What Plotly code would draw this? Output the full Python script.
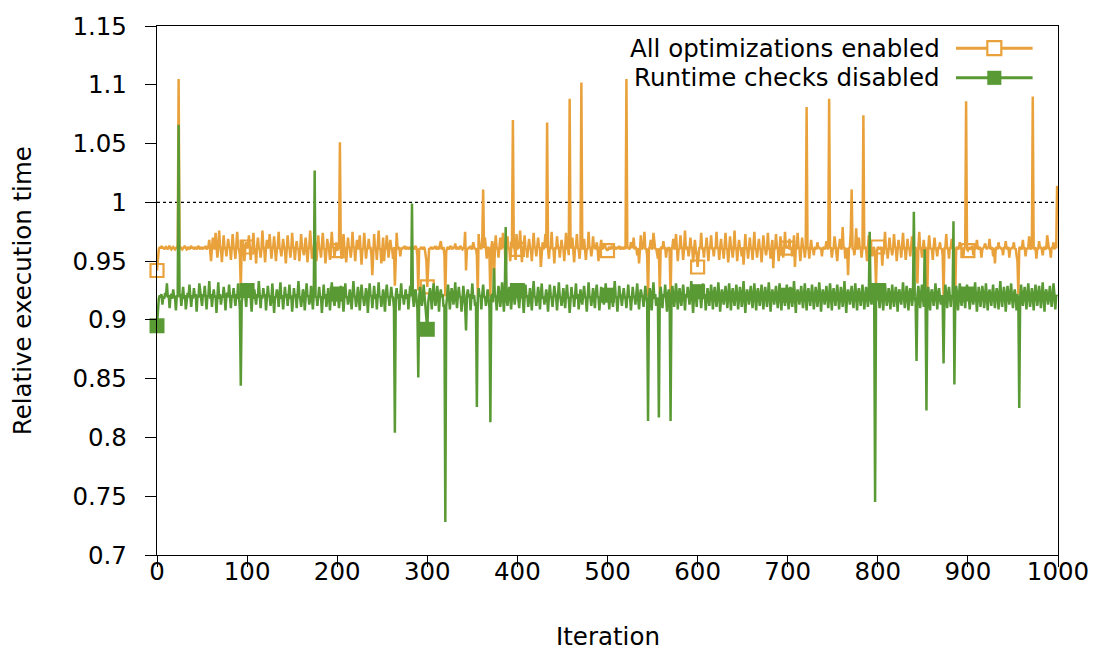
import plotly.graph_objects as go

# Per-iteration relative execution time (1000 iterations)
iterations = list(range(1000))

all_opt = [
    0.942, 0.955, 0.960, 0.962, 0.961, 0.963, 0.961, 0.962, 0.960, 0.961, 0.962, 0.961, 0.960, 0.962, 0.963, 0.961, 0.960, 0.961, 0.962, 0.961,
    0.960, 0.961, 0.962, 0.961, 1.105, 0.960, 0.962, 0.961, 0.960, 0.961, 0.962, 0.963, 0.961, 0.960, 0.961, 0.962, 0.960, 0.961, 0.963, 0.961,
    0.962, 0.960, 0.961, 0.962, 0.960, 0.961, 0.963, 0.961, 0.960, 0.962, 0.961, 0.960, 0.962, 0.961, 0.963, 0.960, 0.961, 0.962, 0.968, 0.961,
    0.950, 0.961, 0.970, 0.962, 0.960, 0.974, 0.961, 0.953, 0.960, 0.976, 0.962, 0.961, 0.949, 0.961, 0.972, 0.960, 0.962, 0.954, 0.961, 0.969,
    0.961, 0.962, 0.951, 0.960, 0.973, 0.961, 0.960, 0.952, 0.962, 0.975, 0.961, 0.960, 0.955, 0.926, 0.961, 0.968, 0.962, 0.950, 0.961, 0.966,
    0.962, 0.961, 0.972, 0.960, 0.951, 0.961, 0.962, 0.974, 0.960, 0.961, 0.948, 0.962, 0.970, 0.961, 0.960, 0.953, 0.961, 0.976, 0.962, 0.960,
    0.949, 0.961, 0.968, 0.962, 0.961, 0.973, 0.960, 0.952, 0.961, 0.962, 0.971, 0.961, 0.950, 0.960, 0.962, 0.975, 0.961, 0.960, 0.954, 0.961,
    0.969, 0.962, 0.960, 0.948, 0.961, 0.972, 0.961, 0.962, 0.953, 0.960, 0.974, 0.961, 0.962, 0.951, 0.961, 0.967, 0.960, 0.961, 0.950, 0.962,
    0.973, 0.961, 0.960, 0.955, 0.962, 0.970, 0.961, 0.949, 0.960, 0.962, 0.976, 0.961, 0.952, 0.960, 0.961, 0.968, 0.962, 0.950, 0.961, 0.972,
    0.960, 0.961, 0.953, 0.962, 0.974, 0.961, 0.960, 0.948, 0.961, 0.969, 0.962, 0.960, 0.951, 0.961, 0.975, 0.962, 0.961, 0.954, 0.960, 0.966,
    0.959, 0.961, 0.962, 1.051, 0.960, 0.952, 0.961, 0.973, 0.962, 0.960, 0.949, 0.961, 0.970, 0.961, 0.962, 0.953, 0.960, 0.975, 0.961, 0.962,
    0.950, 0.961, 0.968, 0.960, 0.962, 0.972, 0.961, 0.947, 0.960, 0.961, 0.974, 0.962, 0.952, 0.961, 0.960, 0.969, 0.961, 0.962, 0.955, 0.938,
    0.961, 0.973, 0.960, 0.962, 0.951, 0.961, 0.976, 0.960, 0.961, 0.948, 0.962, 0.970, 0.950, 0.961, 0.960, 0.972, 0.962, 0.953, 0.961, 0.968,
    0.961, 0.960, 0.952, 0.962, 0.929, 0.961, 0.974, 0.960, 0.961, 0.962, 0.954, 0.961, 0.960, 0.962, 0.961, 0.963, 0.960, 0.961, 0.962, 0.960,
    0.961, 0.962, 0.960, 0.961, 0.962, 0.960, 0.961, 0.963, 0.961, 0.955, 0.925, 0.961, 0.960, 0.962, 0.961, 0.960, 0.962, 0.961, 0.956, 0.950,
    0.928, 0.955, 0.961, 0.960, 0.962, 0.961, 0.960, 0.962, 0.961, 0.963, 0.960, 0.961, 0.962, 0.960, 0.964, 0.967, 0.961, 0.960, 0.962, 0.955,
    0.920, 0.958, 0.961, 0.962, 0.960, 0.961, 0.963, 0.961, 0.960, 0.962, 0.961, 0.965, 0.960, 0.961, 0.962, 0.960, 0.961, 0.963, 0.961, 0.960,
    0.961, 0.962, 0.975, 0.942, 0.961, 0.960, 0.962, 0.961, 0.963, 0.960, 0.961, 0.966, 0.962, 0.960, 0.961, 0.955, 0.921, 0.973, 0.961, 0.962,
    0.960, 0.968, 1.011, 0.961, 0.970, 0.960, 0.952, 0.961, 0.962, 0.955, 0.920, 0.961, 0.967, 0.962, 0.931, 0.961, 0.972, 0.960, 0.962, 0.953,
    0.961, 0.970, 0.960, 0.962, 0.974, 0.961, 0.962, 0.943, 0.961, 0.971, 0.960, 0.962, 0.950, 0.961, 0.968, 1.070, 0.962, 0.960, 0.951, 0.973,
    0.960, 0.962, 0.961, 0.976, 0.960, 0.949, 0.961, 0.962, 0.972, 0.960, 0.961, 0.953, 0.962, 0.969, 0.961, 0.960, 0.950, 0.961, 0.974, 0.962,
    0.961, 0.954, 0.960, 0.970, 0.961, 0.962, 0.945, 0.961, 0.966, 0.960, 0.962, 0.973, 0.961, 1.068, 0.960, 0.952, 0.962, 0.961, 0.975, 0.960,
    0.961, 0.948, 0.962, 0.960, 0.971, 0.961, 0.962, 0.953, 0.960, 0.968, 0.961, 0.962, 0.950, 0.961, 0.974, 0.960, 0.962, 0.955, 1.088, 0.961,
    0.962, 0.970, 0.960, 0.949, 0.961, 0.962, 0.973, 0.961, 0.960, 0.952, 0.962, 1.102, 0.961, 0.960, 0.969, 0.962, 0.951, 0.961, 0.960, 0.975,
    0.961, 0.962, 0.954, 0.960, 0.971, 0.961, 0.962, 0.960, 0.966, 0.961, 0.950, 0.962, 0.961, 0.968, 0.960, 0.961, 0.962, 0.964, 0.961, 0.960,
    0.959, 0.961, 0.962, 0.960, 0.961, 0.963, 0.961, 0.960, 0.962, 0.961, 0.960, 0.962, 0.961, 0.963, 0.960, 0.961, 0.962, 0.960, 0.961, 0.962,
    0.960, 1.105, 0.961, 0.962, 0.960, 0.961, 0.966, 0.962, 0.961, 0.970, 0.960, 0.962, 0.961, 0.955, 0.961, 0.948, 0.962, 0.972, 0.960, 0.961,
    0.962, 0.975, 0.960, 0.961, 0.955, 0.920, 0.961, 0.962, 0.968, 0.960, 0.961, 0.974, 0.962, 0.960, 0.961, 0.956, 0.952, 0.961, 0.922, 0.961,
    0.962, 0.960, 0.967, 0.961, 0.962, 0.953, 0.961, 0.960, 0.962, 0.958, 0.919, 0.961, 0.962, 0.969, 0.960, 0.961, 0.973, 0.962, 0.950, 0.961,
    0.960, 0.972, 0.961, 0.962, 0.951, 0.961, 0.976, 0.960, 0.962, 0.961, 0.954, 0.960, 0.970, 0.961, 0.962, 0.949, 0.961, 0.968, 0.960, 0.955,
    0.945, 0.958, 0.962, 0.961, 0.974, 0.960, 0.961, 0.953, 0.962, 0.961, 0.970, 0.960, 0.950, 0.962, 0.961, 0.972, 0.960, 0.961, 0.954, 0.962,
    0.961, 0.975, 0.960, 0.962, 0.951, 0.961, 0.969, 0.960, 0.961, 0.952, 0.962, 0.974, 0.961, 0.960, 0.949, 0.961, 0.971, 0.962, 0.960, 0.953,
    0.961, 0.976, 0.960, 0.962, 0.950, 0.961, 0.968, 0.961, 0.960, 0.954, 0.962, 0.947, 0.961, 0.973, 0.960, 0.962, 0.952, 0.961, 0.970, 0.960,
    0.962, 0.951, 0.961, 0.975, 0.960, 0.961, 0.953, 0.962, 0.969, 0.961, 0.960, 0.949, 0.961, 0.972, 0.962, 0.960, 0.955, 0.961, 0.974, 0.960,
    0.961, 0.952, 0.962, 0.968, 0.944, 0.961, 0.960, 0.973, 0.962, 0.961, 0.950, 0.960, 0.971, 0.961, 0.962, 0.953, 0.960, 0.975, 0.961, 0.962,
    0.961, 0.961, 0.969, 0.960, 0.962, 0.954, 0.961, 0.972, 0.945, 0.961, 0.960, 0.974, 0.962, 0.961, 0.950, 0.960, 0.970, 0.961, 0.962, 0.953,
    0.961, 1.081, 0.960, 0.962, 0.952, 0.961, 0.968, 0.960, 0.961, 0.955, 0.962, 0.961, 0.960, 0.966, 0.961, 0.962, 0.960, 0.961, 0.954, 0.962,
    0.961, 0.960, 0.962, 0.967, 0.961, 0.960, 1.088, 0.961, 0.962, 0.953, 0.960, 0.961, 0.971, 0.962, 0.960, 0.950, 0.961, 0.962, 0.969, 0.961,
    0.960, 0.979, 0.961, 0.962, 0.952, 0.961, 0.960, 0.938, 0.961, 0.962, 0.975, 1.011, 0.960, 0.961, 0.955, 0.962, 0.978, 0.961, 0.960, 0.970,
    0.961, 0.962, 0.953, 0.961, 1.074, 0.960, 0.962, 0.961, 0.950, 0.961, 0.972, 0.962, 0.960, 0.961, 0.954, 0.962, 0.961, 0.955, 0.930, 0.958,
    0.962, 0.961, 0.960, 0.962, 0.961, 0.946, 0.961, 0.962, 0.975, 0.960, 0.961, 0.952, 0.962, 0.970, 0.961, 0.960, 0.955, 0.961, 0.973, 0.962,
    0.961, 0.950, 0.960, 0.968, 0.961, 0.962, 0.953, 0.961, 0.974, 0.960, 0.962, 0.951, 0.961, 0.969, 0.960, 0.962, 0.954, 0.961, 0.971, 0.962,
    0.960, 0.961, 0.962, 0.950, 0.931, 0.961, 0.975, 0.960, 0.962, 0.953, 0.961, 0.968, 0.960, 0.962, 0.955, 0.924, 0.961, 0.972, 0.962, 0.960,
    0.961, 0.951, 0.962, 0.970, 0.961, 0.960, 0.954, 0.962, 0.961, 0.966, 0.960, 0.961, 0.955, 0.920, 0.961, 0.962, 0.973, 0.960, 0.961, 0.952,
    0.962, 0.961, 0.969, 0.960, 0.961, 0.955, 0.924, 0.961, 0.962, 0.960, 0.961, 0.966, 0.962, 0.960, 0.961, 0.954, 0.962, 0.961, 1.086, 0.960,
    0.959, 0.961, 0.962, 0.960, 0.961, 0.963, 0.955, 0.961, 0.960, 0.962, 0.968, 0.961, 0.960, 0.962, 0.961, 0.953, 0.960, 0.961, 0.962, 0.965,
    0.961, 0.960, 0.962, 0.961, 0.969, 0.960, 0.961, 0.962, 0.954, 0.961, 0.948, 0.962, 0.961, 0.960, 0.966, 0.961, 0.962, 0.960, 0.961, 0.955,
    0.962, 0.961, 0.967, 0.960, 0.961, 0.962, 0.953, 0.961, 0.960, 0.962, 0.961, 0.966, 0.960, 0.961, 0.955, 0.950, 0.922, 0.961, 0.962, 0.960,
    0.961, 0.968, 0.960, 0.962, 0.954, 0.961, 0.960, 0.962, 0.971, 0.961, 0.960, 0.962, 1.090, 0.961, 0.960, 0.962, 0.952, 0.961, 0.960, 0.967,
    0.961, 0.962, 0.960, 0.955, 0.961, 0.962, 0.960, 0.961, 0.972, 0.962, 0.960, 0.961, 0.953, 0.962, 0.961, 0.966, 0.960, 0.962, 0.961, 1.014,
]

no_checks = [
    0.895, 0.910, 0.918, 0.921, 0.919, 0.922, 0.913, 0.920, 0.918, 0.923, 0.920, 0.931, 0.919, 0.921, 0.910, 0.920, 0.922, 0.918, 0.926, 0.920,
    0.919, 0.908, 0.921, 0.920, 1.066, 0.919, 0.922, 0.912, 0.920, 0.928, 0.918, 0.921, 0.909, 0.920, 0.923, 0.919, 0.930, 0.920, 0.911, 0.921,
    0.918, 0.927, 0.920, 0.922, 0.907, 0.921, 0.919, 0.931, 0.920, 0.918, 0.912, 0.922, 0.920, 0.929, 0.919, 0.909, 0.921, 0.920, 0.933, 0.918,
    0.922, 0.911, 0.920, 0.926, 0.919, 0.921, 0.906, 0.920, 0.932, 0.918, 0.922, 0.913, 0.920, 0.919, 0.928, 0.921, 0.908, 0.920, 0.923, 0.919,
    0.930, 0.920, 0.910, 0.921, 0.919, 0.927, 0.920, 0.912, 0.922, 0.918, 0.931, 0.920, 0.909, 0.844, 0.915, 0.921, 0.928, 0.919, 0.920, 0.911,
    0.925, 0.922, 0.919, 0.930, 0.920, 0.907, 0.921, 0.918, 0.926, 0.920, 0.913, 0.922, 0.919, 0.933, 0.920, 0.910, 0.921, 0.918, 0.927, 0.920,
    0.922, 0.908, 0.919, 0.929, 0.921, 0.920, 0.912, 0.918, 0.931, 0.922, 0.906, 0.920, 0.919, 0.926, 0.921, 0.911, 0.920, 0.932, 0.918, 0.921,
    0.909, 0.920, 0.928, 0.919, 0.922, 0.912, 0.920, 0.930, 0.918, 0.921, 0.907, 0.920, 0.927, 0.919, 0.922, 0.910, 0.920, 0.933, 0.921, 0.918,
    0.911, 0.920, 0.926, 0.922, 0.908, 0.919, 0.931, 0.920, 0.921, 0.913, 0.918, 0.929, 0.920, 0.909, 0.921, 1.027, 0.919, 0.920, 0.912, 0.922,
    0.928, 0.919, 0.920, 0.906, 0.921, 0.930, 0.918, 0.922, 0.911, 0.920, 0.927, 0.919, 0.908, 0.921, 0.932, 0.920, 0.918, 0.912, 0.922, 0.926,
    0.922, 0.919, 0.910, 0.921, 0.929, 0.920, 0.918, 0.907, 0.922, 0.931, 0.919, 0.920, 0.913, 0.921, 0.926, 0.918, 0.909, 0.920, 0.933, 0.921,
    0.919, 0.911, 0.922, 0.928, 0.920, 0.908, 0.919, 0.930, 0.921, 0.918, 0.912, 0.920, 0.927, 0.922, 0.906, 0.919, 0.931, 0.920, 0.921, 0.910,
    0.920, 0.929, 0.918, 0.922, 0.909, 0.921, 0.932, 0.919, 0.920, 0.911, 0.922, 0.926, 0.918, 0.907, 0.921, 0.930, 0.920, 0.919, 0.912, 0.922,
    0.928, 0.920, 0.919, 0.910, 0.804, 0.921, 0.927, 0.918, 0.922, 0.908, 0.920, 0.931, 0.919, 0.921, 0.913, 0.920, 0.926, 0.918, 0.922, 0.909,
    0.921, 0.929, 0.920, 0.999, 0.919, 0.911, 0.922, 0.926, 0.918, 0.910, 0.851, 0.920, 0.928, 0.921, 0.912, 0.919, 0.930, 0.920, 0.908, 0.905,
    0.892, 0.915, 0.921, 0.927, 0.919, 0.909, 0.922, 0.931, 0.920, 0.912, 0.918, 0.929, 0.921, 0.907, 0.920, 0.926, 0.919, 0.922, 0.911, 0.913,
    0.728, 0.912, 0.920, 0.930, 0.921, 0.909, 0.919, 0.927, 0.922, 0.913, 0.920, 0.932, 0.918, 0.910, 0.921, 0.928, 0.920, 0.919, 0.907, 0.922,
    0.929, 0.920, 0.911, 0.891, 0.921, 0.926, 0.919, 0.922, 0.908, 0.920, 0.931, 0.918, 0.921, 0.912, 0.915, 0.826, 0.919, 0.927, 0.920, 0.921,
    0.909, 0.922, 0.930, 0.919, 0.920, 0.912, 0.921, 0.926, 0.918, 0.910, 0.813, 0.920, 0.922, 0.915, 0.944, 0.919, 0.921, 0.908, 0.920, 0.929,
    0.921, 0.911, 0.919, 0.932, 0.920, 0.907, 0.922, 0.979, 0.918, 0.912, 0.921, 0.928, 0.920, 0.909, 0.919, 0.931, 0.922, 0.913, 0.920, 0.926,
    0.925, 0.919, 0.910, 0.921, 0.929, 0.920, 0.918, 0.906, 0.922, 0.930, 0.919, 0.921, 0.911, 0.920, 0.927, 0.918, 0.908, 0.921, 0.933, 0.920,
    0.919, 0.912, 0.922, 0.928, 0.920, 0.909, 0.921, 0.931, 0.918, 0.920, 0.913, 0.922, 0.926, 0.919, 0.907, 0.920, 0.930, 0.921, 0.918, 0.911,
    0.920, 0.929, 0.922, 0.919, 0.908, 0.921, 0.932, 0.920, 0.918, 0.912, 0.922, 0.927, 0.919, 0.910, 0.921, 0.930, 0.920, 0.918, 0.906, 0.922,
    0.928, 0.919, 0.921, 0.911, 0.920, 0.931, 0.918, 0.922, 0.909, 0.920, 0.926, 0.919, 0.913, 0.921, 0.929, 0.920, 0.918, 0.907, 0.922, 0.932,
    0.920, 0.919, 0.912, 0.921, 0.927, 0.918, 0.910, 0.922, 0.930, 0.920, 0.919, 0.908, 0.921, 0.928, 0.920, 0.918, 0.913, 0.922, 0.931, 0.919,
    0.921, 0.920, 0.909, 0.922, 0.926, 0.919, 0.911, 0.920, 0.933, 0.921, 0.918, 0.907, 0.920, 0.929, 0.922, 0.919, 0.912, 0.921, 0.927, 0.920,
    0.918, 0.910, 0.922, 0.930, 0.919, 0.920, 0.908, 0.921, 0.928, 0.920, 0.919, 0.913, 0.922, 0.931, 0.918, 0.909, 0.920, 0.926, 0.921, 0.919,
    0.911, 0.922, 0.929, 0.920, 0.915, 0.814, 0.919, 0.927, 0.921, 0.908, 0.920, 0.932, 0.918, 0.922, 0.912, 0.919, 0.915, 0.817, 0.921, 0.928,
    0.920, 0.910, 0.922, 0.919, 0.930, 0.920, 0.907, 0.921, 0.926, 0.918, 0.814, 0.920, 0.929, 0.921, 0.911, 0.919, 0.931, 0.922, 0.909, 0.920,
    0.927, 0.918, 0.912, 0.921, 0.930, 0.920, 0.908, 0.922, 0.919, 0.928, 0.920, 0.913, 0.921, 0.933, 0.919, 0.906, 0.920, 0.926, 0.922, 0.911,
    0.924, 0.919, 0.929, 0.920, 0.910, 0.921, 0.931, 0.918, 0.922, 0.908, 0.920, 0.927, 0.919, 0.912, 0.921, 0.930, 0.920, 0.909, 0.922, 0.928,
    0.919, 0.911, 0.920, 0.932, 0.921, 0.907, 0.918, 0.926, 0.920, 0.913, 0.922, 0.929, 0.919, 0.910, 0.921, 0.931, 0.920, 0.908, 0.922, 0.927,
    0.918, 0.912, 0.921, 0.930, 0.920, 0.909, 0.919, 0.928, 0.922, 0.911, 0.920, 0.933, 0.918, 0.906, 0.921, 0.926, 0.920, 0.913, 0.922, 0.929,
    0.919, 0.910, 0.921, 0.931, 0.920, 0.908, 0.922, 0.927, 0.918, 0.912, 0.921, 0.930, 0.920, 0.909, 0.919, 0.928, 0.922, 0.911, 0.920, 0.932,
    0.921, 0.907, 0.919, 0.926, 0.920, 0.913, 0.922, 0.929, 0.918, 0.910, 0.921, 0.931, 0.920, 0.908, 0.922, 0.927, 0.919, 0.912, 0.921, 0.930,
    0.921, 0.909, 0.918, 0.928, 0.922, 0.911, 0.920, 0.933, 0.919, 0.906, 0.921, 0.926, 0.920, 0.913, 0.922, 0.929, 0.918, 0.910, 0.921, 0.931,
    0.920, 0.908, 0.922, 0.927, 0.919, 0.912, 0.921, 0.930, 0.920, 0.909, 0.918, 0.928, 0.922, 0.911, 0.920, 0.932, 0.921, 0.907, 0.919, 0.926,
    0.920, 0.913, 0.922, 0.929, 0.918, 0.910, 0.921, 0.931, 0.920, 0.908, 0.922, 0.927, 0.919, 0.912, 0.921, 0.930, 0.920, 0.909, 0.918, 0.928,
    0.922, 0.911, 0.920, 0.933, 0.919, 0.906, 0.921, 0.926, 0.920, 0.913, 0.922, 0.929, 0.918, 0.910, 0.921, 0.931, 0.920, 0.908, 0.922, 0.927,
    0.919, 0.912, 0.921, 0.930, 0.920, 0.909, 0.918, 0.928, 0.922, 0.911, 0.920, 0.975, 0.919, 0.913, 0.921, 0.926, 0.918, 0.745, 0.915, 0.921,
    0.925, 0.920, 0.910, 0.922, 0.929, 0.919, 0.908, 0.921, 0.931, 0.920, 0.912, 0.918, 0.927, 0.922, 0.909, 0.920, 0.930, 0.919, 0.911, 0.921,
    0.928, 0.920, 0.907, 0.922, 0.926, 0.918, 0.913, 0.921, 0.932, 0.920, 0.910, 0.919, 0.929, 0.922, 0.908, 0.920, 0.927, 0.921, 0.912, 0.919,
    0.992, 0.920, 0.915, 0.865, 0.921, 0.929, 0.919, 0.910, 0.922, 0.930, 0.920, 0.911, 0.960, 0.919, 0.823, 0.921, 0.928, 0.920, 0.908, 0.922,
    0.926, 0.919, 0.912, 0.921, 0.931, 0.920, 0.909, 0.922, 0.927, 0.918, 0.913, 0.921, 0.915, 0.863, 0.920, 0.930, 0.919, 0.910, 0.922, 0.928,
    0.920, 0.911, 0.921, 0.919, 0.984, 0.845, 0.920, 0.929, 0.922, 0.908, 0.919, 0.931, 0.920, 0.912, 0.921, 0.926, 0.918, 0.910, 0.922, 0.930,
    0.922, 0.920, 0.909, 0.921, 0.927, 0.919, 0.913, 0.922, 0.932, 0.920, 0.907, 0.918, 0.928, 0.921, 0.911, 0.920, 0.929, 0.922, 0.910, 0.919,
    0.931, 0.920, 0.908, 0.921, 0.926, 0.919, 0.912, 0.922, 0.930, 0.918, 0.910, 0.921, 0.927, 0.920, 0.909, 0.922, 0.933, 0.919, 0.911, 0.920,
    0.928, 0.921, 0.907, 0.919, 0.929, 0.920, 0.913, 0.922, 0.931, 0.918, 0.910, 0.921, 0.926, 0.920, 0.908, 0.922, 0.915, 0.825, 0.919, 0.930,
    0.920, 0.912, 0.921, 0.928, 0.919, 0.909, 0.922, 0.931, 0.920, 0.911, 0.918, 0.927, 0.921, 0.908, 0.920, 0.930, 0.922, 0.912, 0.919, 0.929,
    0.920, 0.910, 0.921, 0.932, 0.919, 0.907, 0.922, 0.926, 0.920, 0.913, 0.921, 0.929, 0.918, 0.911, 0.920, 0.931, 0.922, 0.909, 0.921, 0.920,
]

series_names = ["All optimizations enabled", "Runtime checks disabled"]
marker_step = 100

x_tick_vals = [0, 100, 200, 300, 400, 500, 600, 700, 800, 900, 1000]
x_tick_text = ["0", "100", "200", "300", "400", "500", "600", "700", "800", "900", "1000"]
y_tick_vals = [0.7, 0.75, 0.8, 0.85, 0.9, 0.95, 1.0, 1.05, 1.1, 1.15]
y_tick_text = ["0.7", "0.75", "0.8", "0.85", "0.9", "0.95", "1", "1.05", "1.1", "1.15"]
reference_level = 1.0

ORANGE = "#E9A23B"
GREEN = "#5A9A35"
FONT = "DejaVu Sans"
FS = 24.5

fig = go.Figure()

# orange series: line plus open squares every 100 iterations
fig.add_trace(go.Scatter(x=iterations, y=all_opt, mode="lines",
                         line=dict(color=ORANGE, width=2.5), cliponaxis=False,
                         showlegend=False, hoverinfo="skip"))
fig.add_trace(go.Scatter(x=iterations[::marker_step], y=all_opt[::marker_step], mode="markers",
                         marker=dict(symbol="square-open", size=13, color=ORANGE,
                                     line=dict(color=ORANGE, width=2.2)),
                         cliponaxis=False, showlegend=False))
# green series: line plus filled squares every 100 iterations
fig.add_trace(go.Scatter(x=iterations, y=no_checks, mode="lines",
                         line=dict(color=GREEN, width=2.5), cliponaxis=False,
                         showlegend=False, hoverinfo="skip"))
fig.add_trace(go.Scatter(x=iterations[::marker_step], y=no_checks[::marker_step], mode="markers",
                         marker=dict(symbol="square", size=15, color=GREEN, line=dict(width=0)),
                         cliponaxis=False, showlegend=False))

# dotted reference line at 1.0
fig.add_shape(type="line", xref="paper", x0=0, x1=1, yref="y",
              y0=reference_level, y1=reference_level,
              line=dict(color="black", width=1.3, dash="3px,3px"), layer="below")

# key in the upper right: right-aligned text, sample line with a square in the middle
key_rows = [(0.958, ORANGE, "white", 2.2), (0.902, GREEN, GREEN, 0)]
for name, (ky, col, fill, bw) in zip(series_names, key_rows):
    fig.add_annotation(text=name, xref="paper", yref="paper", x=0.871, y=ky,
                       xanchor="right", yanchor="middle", showarrow=False,
                       font=dict(family=FONT, size=FS, color="black"))
    fig.add_shape(type="line", xref="paper", yref="paper", x0=0.8868, x1=0.9718,
                  y0=ky, y1=ky, line=dict(color=col, width=3))
    fig.add_shape(type="rect", xref="paper", yref="paper", xsizemode="pixel", ysizemode="pixel",
                  xanchor=0.9293, yanchor=ky, x0=-7, x1=7, y0=-7, y1=7,
                  fillcolor=fill, line=dict(color=col, width=bw if bw else 0.1))

# axis titles
fig.add_annotation(text="Iteration", xref="paper", yref="paper", x=0.5, y=-0.154,
                   xanchor="center", yanchor="middle", showarrow=False,
                   font=dict(family=FONT, size=FS, color="black"))
fig.add_annotation(text="Relative execution time", xref="paper", yref="paper", x=-0.149, y=0.5,
                   xanchor="center", yanchor="middle", textangle=-90, showarrow=False,
                   font=dict(family=FONT, size=FS, color="black"))

axis_common = dict(showline=True, linecolor="black", linewidth=1.3, mirror=True,
                   ticks="outside", ticklen=11, tickwidth=1.3, tickcolor="black",
                   showgrid=False, zeroline=False,
                   tickfont=dict(family=FONT, size=FS, color="black"))

fig.update_xaxes(range=[0, 1000], tickvals=x_tick_vals, ticktext=x_tick_text,
                 ticklabelstandoff=-17, **axis_common)
fig.update_yaxes(range=[0.7, 1.15], tickvals=y_tick_vals, ticktext=y_tick_text,
                 ticklabelstandoff=13, **axis_common)

fig.update_layout(width=1101, height=651, margin=dict(l=157, r=38, t=22, b=96),
                  paper_bgcolor="white", plot_bgcolor="white",
                  font=dict(family=FONT, size=FS, color="black"))

fig.write_html("out.html")
